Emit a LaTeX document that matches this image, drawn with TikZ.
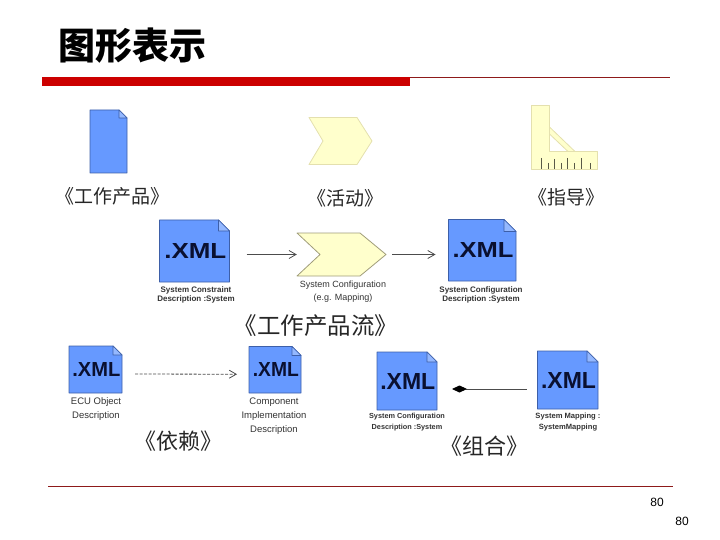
\documentclass[tikz,border=0pt]{standalone}
\usepackage{fontspec}
\usepackage{graphicx}
\setmainfont{Liberation Sans}
\newfontfamily\cjk{Noto Sans CJK SC}
\usetikzlibrary{arrows.meta}
\definecolor{docblue}{HTML}{6699FF}
\definecolor{docedge}{HTML}{3D5FA8}
\definecolor{paleyel}{HTML}{FFFFCC}
\definecolor{yeledge}{HTML}{E4E0AE}
\definecolor{barred}{HTML}{CC0000}
\definecolor{linered}{HTML}{8E1A1A}
\definecolor{xmlink}{HTML}{0A1030}
\tikzset{
  docshape/.style={draw=docedge,fill=docblue,line width=0.8pt,line join=round},
  foldshape/.style={draw=docedge,fill=docblue!70!white,line width=0.6pt,line join=round},
  chevshape/.style={draw=yeledge,fill=paleyel,line width=0.8pt,line join=round},
  label/.style={inner sep=0pt,text=black!85,anchor=center},
  tiny/.style={inner sep=0pt,align=center,text=black!80,anchor=center},
  conn/.style={draw=black!70,line width=0.8pt},
  openhead/.style={-{Straight Barb[length=7pt,width=8pt]}},
}
% name, x1,y1,x2,y2, fold, xml width, xml height
\newcommand{\docicon}[8]{%
  \node[inner sep=0pt,outer sep=0pt,minimum width=#4pt-#2pt,minimum height=#5pt-#3pt] (#1) at ({(#2+#4)/2},{(#3+#5)/2}) {};
  \draw[docshape] (#2,#3) -- ({#4-#6},#3) -- (#4,{#3+#6}) -- (#4,#5) -- (#2,#5) -- cycle;
  \draw[foldshape] ({#4-#6},#3) -- ({#4-#6},{#3+#6}) -- (#4,{#3+#6}) -- cycle;
  \ifdim #7pt>0pt
    \node[inner sep=0pt,text=xmlink] (#1x) at ({(#2+#4)/2+0.8},{(#3+#5)/2}) {\resizebox{#7pt}{#8pt}{\bfseries .XML}};
  \fi
}
\begin{document}
\begin{tikzpicture}[x=1pt,y=-1pt]
\useasboundingbox (0,0) rectangle (720,540);
% title and rules
\node[font=\cjk\bfseries\fontsize{37}{40}\selectfont,inner sep=0pt,anchor=center] (title) at (132,46) {图形表示};
\fill[barred] (42,77) rectangle (410,86);
\draw[linered,line width=0.8pt] (410,77.3) -- (670,77.3);
\draw[linered,line width=0.8pt] (48,486.5) -- (673,486.5);
\node[font=\fontsize{12}{14}\selectfont,inner sep=0pt] (pga) at (657,502) {80};
\node[font=\fontsize{12}{14}\selectfont,inner sep=0pt] (pgb) at (682,521) {80};
% legend row
\docicon{legdoc}{90}{110}{127}{173}{8}{0}{0}
\node[label,font=\cjk\fontsize{19}{22}\selectfont] (l1) at (112,196) {《工作产品》};
\node[inner sep=0pt,minimum width=63pt,minimum height=47pt] (legchev) at (340.5,141) {};
\draw[chevshape] (309,117.5) -- (357,117.5) -- (372,141) -- (357,164.5) -- (309,164.5) -- (323,141) -- cycle;
\node[label,font=\cjk\fontsize{19}{22}\selectfont] (l2) at (345,198) {《活动》};
% guidance icon
\node[inner sep=0pt,minimum width=66pt,minimum height=64pt] (ruler) at (564,137) {};
\draw[chevshape] (531.5,105.5) -- (549.5,105.5) -- (549.5,151.5) -- (597.5,151.5) -- (597.5,169.5) -- (531.5,169.5) -- cycle;
\draw[chevshape] (549.5,127) -- (575,151.5) -- (568,151.5) -- (549.5,134) -- cycle;
\foreach \px/\pt in {541/158,548/163,554/159,561/163,567/158,574/163,581/158,590/163}{
  \draw[black!65!paleyel,line width=0.8pt] (\px,\pt) -- (\px,169);
}
\node[label,font=\cjk\fontsize{19}{22}\selectfont] (l3) at (566,197) {《指导》};
% product flow
\docicon{a}{159.5}{220}{229.5}{282}{11}{62}{15}
\node[inner sep=0pt,minimum width=89pt,minimum height=43pt] (chev) at (341.5,254.5) {};
\draw[chevshape,draw=black!30!yeledge] (297,233) -- (360,233) -- (386,254.5) -- (360,276) -- (297,276) -- (320,254.5) -- cycle;
\docicon{b}{448.5}{219.5}{516}{281}{12}{61}{15}
\draw[conn,openhead,shorten <=17pt] (a.east |- chev.west) -- (chev.west);
\draw[conn,openhead,shorten <=6pt,shorten >=13pt] (chev.east) -- (b.west |- chev.east);
\node[tiny,font=\fontsize{8}{9.6}\selectfont\bfseries] (ta) at (196,295) {System Constraint\\Description :System};
\node[tiny,font=\fontsize{9}{13}\selectfont] (tc) at (343,292) {System Configuration\\(e.g. Mapping)};
\node[tiny,font=\fontsize{8}{9.6}\selectfont\bfseries] (tb) at (481,295) {System Configuration\\Description :System};
\node[label,font=\cjk\fontsize{23.5}{26}\selectfont] (l4) at (316,326) {《工作产品流》};
% dependency
\docicon{c}{69}{346}{122}{393}{9}{48}{14}
\docicon{d}{249}{346.5}{301}{393}{9}{46}{14}
\draw[conn,dash pattern=on 3pt off 1.5pt,openhead,shorten <=13pt,shorten >=12pt] ([yshift=-4.5pt]c.east) -- ([yshift=-4.5pt]d.west);
\node[tiny,font=\fontsize{9.5}{14}\selectfont] (tcc) at (96,409) {ECU Object\\Description};
\node[tiny,font=\fontsize{9.5}{14}\selectfont] (tdd) at (274,416) {Component\\Implementation\\Description};
\node[label,font=\cjk\fontsize{22}{25}\selectfont] (l5) at (178,441) {《依赖》};
% composition
\docicon{e}{377}{352}{437}{410}{10}{55}{16}
\docicon{f}{537.5}{351}{598}{409}{11}{55}{16}
\draw[conn,line width=0.9pt,shorten <=15pt,shorten >=11pt,{Diamond[length=15pt,width=7pt,black]}-] ([yshift=-8pt]e.east) -- ([yshift=-9pt]f.west);
\node[tiny,font=\fontsize{7.3}{11}\selectfont\bfseries] (tee) at (407,422) {System Configuration\\Description :System};
\node[tiny,font=\fontsize{7.6}{11}\selectfont\bfseries] (tff) at (568,422) {System Mapping :\\SystemMapping};
\node[label,font=\cjk\fontsize{22}{25}\selectfont] (l6) at (484,446) {《组合》};
\end{tikzpicture}
\end{document}
